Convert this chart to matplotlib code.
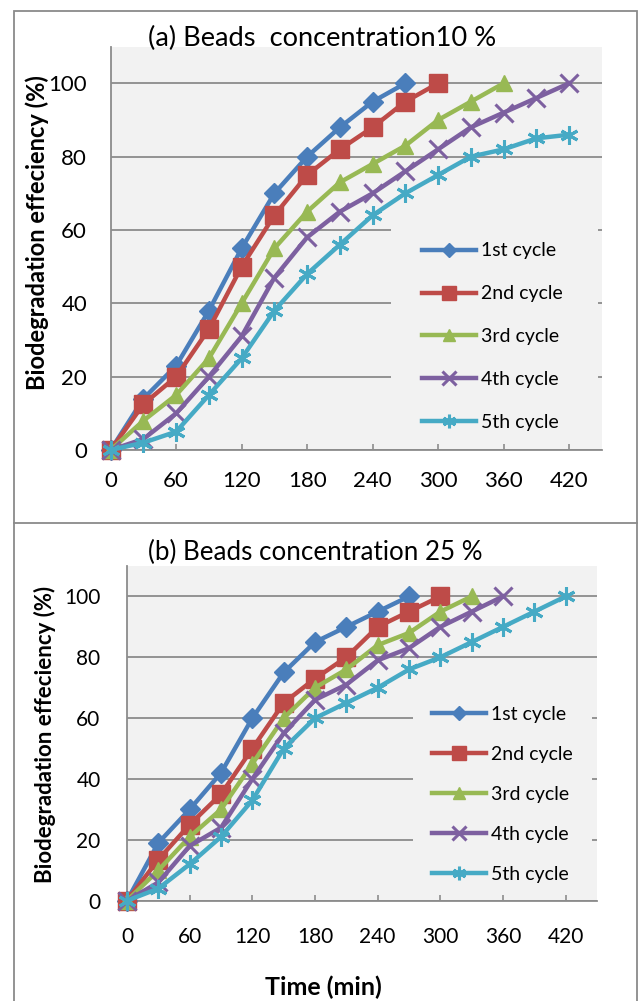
import matplotlib.pyplot as plt
from matplotlib.patches import Rectangle
from matplotlib.lines import Line2D

plt.rcParams['font.family'] = ['Lato', 'DejaVu Sans']

minutes = [0, 30, 60, 90, 120, 150, 180, 210, 240, 270, 300, 330, 360, 390, 420]
labels = ["1st cycle", "2nd cycle", "3rd cycle", "4th cycle", "5th cycle"]

# (a) beads concentration 10 %
a_cycle1 = [0, 14, 23, 38, 55, 70, 80, 88, 95, 100]
a_cycle2 = [0, 12.5, 20, 33, 50, 64, 75, 82, 88, 95, 100]
a_cycle3 = [0, 8, 15, 25, 40, 55, 65, 73, 78, 83, 90, 95, 100]
a_cycle4 = [0, 3, 10, 20, 31, 47, 58, 65, 70, 76, 82, 88, 92, 96, 100]
a_cycle5 = [0, 2, 5, 15, 25, 38, 48, 56, 64, 70, 75, 80, 82, 85, 86]

# (b) beads concentration 25 %
b_cycle1 = [0, 19, 30, 42, 60, 75, 85, 90, 95, 100]
b_cycle2 = [0, 13.5, 25, 35, 50, 65, 73, 80, 90, 95, 100]
b_cycle3 = [0, 10, 21, 30, 45, 60, 70, 76, 84, 88, 95, 100]
b_cycle4 = [0, 6, 18, 24, 40, 55, 66, 71, 79, 83, 90, 95, 100]
b_cycle5 = [0, 4, 12, 21, 33, 50, 60, 65, 70, 76, 80, 85, 90, 95, 100]

colors = ['#4A7EBB', '#BE4B48', '#98B954', '#7D60A0', '#46AAC5']
markers = ['D', 's', '^', 'x', (6, 2, 0)]
msizes = [10, 12.5, 12, 13, 13]
grid_c = '#8C8C8C'

W, H = 639, 1001
fig = plt.figure(figsize=(W / 100, H / 100), dpi=100)


def fx(px):
    return px / W


def fy(py):
    return 1 - py / H


def draw_panel(ax, series, fs_tick, pad_x, pad_y, leg_anchor, leg_spacing, rect):
    ax.set_facecolor('#F2F2F2')
    for i, vals in enumerate(series):
        ax.plot(minutes[:len(vals)], vals, color=colors[i], lw=3.2,
                marker=markers[i], ms=msizes[i], mew=2.2 if i >= 3 else 1,
                mec=colors[i], mfc=colors[i], label=labels[i],
                clip_on=False, zorder=3 + i)
    ax.set_xlim(0, 450)
    ax.set_ylim(0, 110)
    ax.set_xticks(minutes[::2])
    ax.set_yticks([0, 20, 40, 60, 80, 100])
    ax.grid(axis='y', color=grid_c, lw=1.3)
    ax.grid(axis='x', visible=False)
    for s in ['top', 'right']:
        ax.spines[s].set_visible(False)
    for s in ['left', 'bottom']:
        ax.spines[s].set_color(grid_c)
        ax.spines[s].set_linewidth(1.3)
    ax.tick_params(axis='x', direction='in', length=4, width=1.2, color=grid_c,
                   labelsize=fs_tick, pad=pad_x)
    ax.tick_params(axis='y', length=0, labelsize=fs_tick, pad=pad_y)
    ax.add_patch(Rectangle((rect[0], rect[1]), rect[2] - rect[0], rect[3] - rect[1],
                           transform=ax.transAxes, facecolor='#F2F2F2',
                           edgecolor='none', zorder=1.6))
    ax.legend(loc='center left', bbox_to_anchor=leg_anchor, frameon=False,
              borderaxespad=0, borderpad=0, fontsize=14, labelspacing=leg_spacing,
              handlelength=2.8, handletextpad=0.25, markerscale=0.75)


ax1 = fig.add_axes([fx(110.7), fy(450), (601.7 - 110.7) / W, (450 - 46.7) / H])
draw_panel(ax1, [a_cycle1, a_cycle2, a_cycle3, a_cycle4, a_cycle5], 16, 15, 17,
           (0.6334, 0.281), 1.33, (0.571, 0.025, 0.9925, 0.55))

ax2 = fig.add_axes([fx(127), fy(900.7), (597 - 127) / W, (900.7 - 566) / H])
draw_panel(ax2, [b_cycle1, b_cycle2, b_cycle3, b_cycle4, b_cycle5], 15, 19, 19,
           (0.6483, 0.318), 1.18, (0.608, 0.02, 0.99, 0.61))

fig.text(fx(322.5), fy(38), "(a) Beads  concentration10 %", fontsize=19.6,
         ha='center', va='center')
fig.text(fx(315.5), fy(552), "(b) Beads concentration 25 %", fontsize=18.7,
         ha='center', va='center')
fig.text(fx(37), fy(233), "Biodegradation effeciency (%)", fontsize=17,
         fontweight='bold', rotation=90, ha='center', va='center')
fig.text(fx(45), fy(734), "Biodegradation effeciency (%)", fontsize=16,
         fontweight='bold', rotation=90, ha='center', va='center')
fig.text(fx(323), fy(987), "Time (min)", fontsize=18, fontweight='bold',
         ha='center', va='center')

# outer frames of the two pasted charts
border = '#8A8A8A'
fig.add_artist(Rectangle((fx(14), fy(523.3)), (637.3 - 14) / W, (523.3 - 10.7) / H,
                         transform=fig.transFigure, fill=False, edgecolor=border, lw=1.3))
fig.add_artist(Line2D([fx(14), fx(14)], [fy(523.3), 0], color=border, lw=1.3))
fig.add_artist(Line2D([fx(637.3), fx(637.3)], [fy(523.3), 0], color=border, lw=1.3))

fig.savefig("out.png", dpi=100)
